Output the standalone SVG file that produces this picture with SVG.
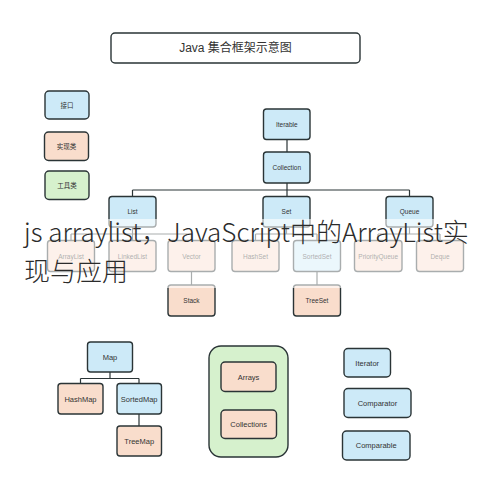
<svg xmlns="http://www.w3.org/2000/svg" width="491" height="490" viewBox="0 0 491 490">
<style>
.n{stroke:#2a3436;stroke-width:1.4}
.b{fill:#cdeaf8}
.o{fill:#f9ddcc}
.g{fill:#d6f1cd}
.t{font-family:"Liberation Sans","Noto Sans CJK SC",sans-serif;font-size:6.5px;fill:#333;text-anchor:middle;dominant-baseline:central}
.tl{font-size:7.5px}
.c{fill:none;stroke:#2a3436;stroke-width:1.2}
</style>
<rect width="491" height="490" fill="#fff"/>
<g id="title"><rect class="n" x="111" y="33" width="249" height="30" rx="4" fill="#fff"/><text class="t" x="235.5" y="48" style="font-size:12px">Java 集合框架示意图</text></g>
<g id="legend-interface"><rect class="n b" x="45" y="91" width="44" height="28" rx="4"/><text class="t" x="67" y="105">接口</text></g>
<g id="legend-impl"><rect class="n o" x="44.5" y="132" width="44" height="28.5" rx="4"/><text class="t" x="66.5" y="146">实现类</text></g>
<g id="legend-util"><rect class="n g" x="45" y="171" width="44" height="28.5" rx="4"/><text class="t" x="67" y="185">工具类</text></g>
<g id="connectors">
<path class="c" d="M287 139V152M287 183V190M132.5 190H409.5M132.5 190V196M287 190V196M409.5 190V196"/>
<path class="c" d="M132.5 227V234M71 234H191.5M71 234V240M132.5 234V240M191.5 234V240M191.5 272V285"/>
<path class="c" d="M286.5 227V234M255.5 234H317M255.5 234V240M317 234V240M317 272V285"/>
<path class="c" d="M409.5 227V234M378 234H440M378 234V240M440 234V240"/>
<path class="c" d="M110 372V378.5M80.5 378.5H139M80.5 378.5V383.5M139 378.5V383.5M139 414V426"/>
</g>
<g id="Iterable"><rect class="n b" x="263.5" y="109" width="46.5" height="30.5" rx="3"/><text class="t" x="286.8" y="124">Iterable</text></g>
<g id="Collection"><rect class="n b" x="263.5" y="152" width="46.5" height="31" rx="3"/><text class="t" x="286.8" y="167.5">Collection</text></g>
<g id="List"><rect class="n b" x="109" y="196.5" width="47" height="30.5" rx="3"/><text class="t" x="132.5" y="211">List</text></g>
<g id="Set"><rect class="n b" x="263" y="196.5" width="47" height="30.5" rx="3"/><text class="t" x="286.5" y="211">Set</text></g>
<g id="Queue"><rect class="n b" x="386" y="196.5" width="47" height="30.5" rx="3"/><text class="t" x="409.5" y="211">Queue</text></g>
<g id="ArrayList"><rect class="n o" x="47.5" y="240.5" width="47" height="31" rx="3"/><text class="t" x="71" y="256">ArrayList</text></g>
<g id="LinkedList"><rect class="n o" x="109" y="240.5" width="47" height="31" rx="3"/><text class="t" x="132.5" y="256">LinkedList</text></g>
<g id="Vector"><rect class="n o" x="168" y="240.5" width="47" height="31" rx="3"/><text class="t" x="191.5" y="256">Vector</text></g>
<g id="HashSet"><rect class="n o" x="232" y="240.5" width="47" height="31" rx="3"/><text class="t" x="255.5" y="256">HashSet</text></g>
<g id="SortedSet"><rect class="n b" x="293.5" y="240.5" width="47" height="31" rx="3"/><text class="t" x="317" y="256">SortedSet</text></g>
<g id="PriorityQueue"><rect class="n o" x="354.5" y="240.5" width="47.5" height="31" rx="3"/><text class="t" x="378.2" y="256">PriorityQueue</text></g>
<g id="Deque"><rect class="n o" x="416.5" y="240.5" width="47" height="31" rx="3"/><text class="t" x="440" y="256">Deque</text></g>
<g id="Stack"><rect class="n o" x="168" y="285" width="47" height="31" rx="3"/><text class="t" x="191.5" y="300.5">Stack</text></g>
<g id="TreeSet"><rect class="n o" x="293.5" y="285" width="47" height="31" rx="3"/><text class="t" x="317" y="300.5">TreeSet</text></g>
<g id="Map"><rect class="n b" x="87.5" y="342" width="45" height="30" rx="3"/><text class="t tl" x="110" y="357">Map</text></g>
<g id="HashMap"><rect class="n o" x="58" y="383.5" width="45" height="30.5" rx="3"/><text class="t tl" x="80.5" y="399">HashMap</text></g>
<g id="SortedMap"><rect class="n b" x="117" y="383.5" width="44.5" height="30.5" rx="3"/><text class="t tl" x="139.2" y="399">SortedMap</text></g>
<g id="TreeMap"><rect class="n o" x="117" y="426" width="44.5" height="30" rx="3"/><text class="t tl" x="139.2" y="441">TreeMap</text></g>
<g id="Utilities"><rect class="n g" x="209" y="346" width="79" height="111" rx="12"/></g>
<g id="Arrays"><rect class="n o" x="221" y="362" width="55" height="29.5" rx="4"/><text class="t tl" x="248.5" y="377">Arrays</text></g>
<g id="Collections"><rect class="n o" x="221" y="410" width="55.5" height="28.5" rx="4"/><text class="t tl" x="248.7" y="424.5">Collections</text></g>
<g id="Iterator"><rect class="n b" x="344" y="348.5" width="46.5" height="28.5" rx="4"/><text class="t tl" x="367.2" y="363">Iterator</text></g>
<g id="Comparator"><rect class="n b" x="344" y="388.5" width="67" height="29" rx="4"/><text class="t tl" x="377.5" y="403">Comparator</text></g>
<g id="Comparable"><rect class="n b" x="342.5" y="431" width="67.5" height="29" rx="4"/><text class="t tl" x="376.2" y="445.5">Comparable</text></g>
<g id="overlay">
<rect x="20" y="219" width="452" height="69" fill="#fff" fill-opacity="0.6"/>
<text x="24" y="242" style="font-family:'Noto Sans CJK SC','Noto Sans',sans-serif;font-size:26px;font-weight:300;fill:#2b2b2b">js arraylist，JavaScript中的ArrayList实</text>
<text x="24" y="281" style="font-family:'Noto Sans CJK SC','Noto Sans',sans-serif;font-size:26px;font-weight:300;fill:#2b2b2b">现与应用</text>
</g>
</svg>
